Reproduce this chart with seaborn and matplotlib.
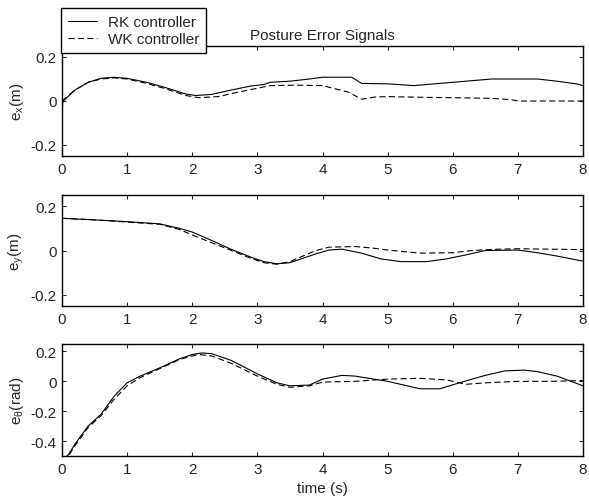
import numpy as np
import pandas as pd
import matplotlib
matplotlib.use("Agg")
import matplotlib.pyplot as plt
from matplotlib.ticker import FuncFormatter
import seaborn as sns

# time samples (s) and error values
t_ex_rk = [0, 0.01, 0.02, 0.2, 0.4, 0.6, 0.8, 1.0, 1.3, 1.6, 1.9, 2.05, 2.3, 2.6, 2.9, 3.1, 3.2, 3.5, 3.8, 4.0, 4.2, 4.45, 4.6, 5.0, 5.4, 5.8, 6.2, 6.6, 7.0, 7.3, 7.6, 7.9, 8.0]
ex_rk = [-0.08, -0.01, 0.0, 0.05, 0.085, 0.103, 0.108, 0.103, 0.085, 0.06, 0.032, 0.025, 0.03, 0.05, 0.068, 0.075, 0.085, 0.09, 0.1, 0.108, 0.108, 0.108, 0.08, 0.078, 0.07, 0.08, 0.09, 0.1, 0.1, 0.1, 0.09, 0.078, 0.07]

t_ex_wk = [0, 0.2, 0.4, 0.6, 0.8, 1.0, 1.3, 1.6, 1.9, 2.1, 2.4, 2.7, 3.0, 3.2, 3.6, 4.0, 4.2, 4.4, 4.6, 4.8, 5.0, 5.5, 6.0, 6.6, 6.9, 7.0, 7.5, 8.0]
ex_wk = [0.0, 0.05, 0.085, 0.1, 0.105, 0.1, 0.08, 0.055, 0.025, 0.015, 0.02, 0.04, 0.058, 0.07, 0.072, 0.07, 0.055, 0.04, 0.008, 0.018, 0.02, 0.017, 0.015, 0.012, 0.006, 0.0, 0.0, 0.0]

t_ey_rk = [0, 0.5, 1.0, 1.5, 1.8, 2.0, 2.3, 2.6, 2.9, 3.1, 3.3, 3.5, 3.7, 3.9, 4.1, 4.3, 4.6, 4.9, 5.2, 5.6, 5.9, 6.2, 6.5, 7.0, 7.3, 7.6, 8.0]
ey_rk = [0.145, 0.138, 0.13, 0.12, 0.1, 0.083, 0.045, 0.005, -0.03, -0.05, -0.06, -0.055, -0.035, -0.015, 0.002, 0.006, -0.012, -0.038, -0.05, -0.05, -0.038, -0.02, 0.0, 0.002, -0.01, -0.025, -0.048]

t_ey_wk = [0, 0.5, 1.0, 1.5, 1.8, 2.0, 2.3, 2.6, 2.9, 3.1, 3.3, 3.5, 3.7, 3.9, 4.1, 4.5, 4.8, 5.0, 5.5, 6.0, 6.3, 6.6, 7.0, 7.5, 8.0]
ey_wk = [0.145, 0.138, 0.128, 0.118, 0.095, 0.07, 0.035, 0.0, -0.035, -0.055, -0.062, -0.05, -0.025, 0.0, 0.015, 0.018, 0.01, 0.002, -0.012, -0.01, 0.0, 0.005, 0.008, 0.006, 0.004]

t_eth_rk = [0, 0.1, 0.2, 0.4, 0.6, 0.8, 1.0, 1.2, 1.5, 1.8, 2.0, 2.15, 2.3, 2.6, 3.0, 3.3, 3.5, 3.8, 4.0, 4.3, 4.5, 5.0, 5.3, 5.5, 5.8, 6.1, 6.5, 6.8, 7.1, 7.3, 7.6, 8.0]
eth_rk = [-0.53, -0.49, -0.42, -0.3, -0.22, -0.1, -0.01, 0.035, 0.09, 0.15, 0.18, 0.19, 0.185, 0.14, 0.05, -0.01, -0.03, -0.025, 0.015, 0.04, 0.035, 0.0, -0.03, -0.05, -0.05, -0.01, 0.04, 0.07, 0.075, 0.065, 0.035, -0.03]

t_eth_wk = [0, 0.1, 0.2, 0.4, 0.6, 0.8, 1.0, 1.2, 1.5, 1.8, 2.0, 2.1, 2.3, 2.6, 3.0, 3.3, 3.5, 3.8, 4.0, 4.5, 5.0, 5.5, 5.9, 6.2, 6.5, 7.0, 7.5, 8.0]
eth_wk = [-0.53, -0.5, -0.43, -0.31, -0.23, -0.12, -0.03, 0.025, 0.085, 0.145, 0.17, 0.18, 0.17, 0.12, 0.035, -0.02, -0.04, -0.03, -0.005, 0.0, 0.015, 0.02, 0.01, -0.02, -0.01, 0.0, 0.0, 0.005]

series_names = ["RK controller", "WK controller"]
ylabels = ["e$_x$(m)", "e$_y$(m)", "e$_θ$(rad)"]
yticks = [[-0.2, 0, 0.2], [-0.2, 0, 0.2], [-0.4, -0.2, 0, 0.2]]
ylims = [(-0.25, 0.25), (-0.25, 0.25), (-0.5, 0.25)]

sns.set_style("ticks")
plt.rcParams["font.family"] = ["Liberation Sans", "DejaVu Sans"]
plt.rcParams["mathtext.default"] = "regular"
plt.rcParams["axes.unicode_minus"] = False

fig = plt.figure(figsize=(5.89, 5.02), dpi=100)
positions = [
    [62 / 589, 1 - 157 / 502, 521 / 589, 110 / 502],
    [62 / 589, 1 - 307 / 502, 521 / 589, 111 / 502],
    [62 / 589, 1 - 457 / 502, 521 / 589, 112 / 502],
]

data = [
    (t_ex_rk, ex_rk, t_ex_wk, ex_wk),
    (t_ey_rk, ey_rk, t_ey_wk, ey_wk),
    (t_eth_rk, eth_rk, t_eth_wk, eth_wk),
]

axes = []
for i, (t1, y1, t2, y2) in enumerate(data):
    ax = fig.add_axes(positions[i])
    df_rk = pd.DataFrame({"t": t1, "e": y1})
    df_wk = pd.DataFrame({"t": t2, "e": y2})
    sns.lineplot(data=df_rk, x="t", y="e", ax=ax, color="black", lw=0.8,
                 label=series_names[0] if i == 0 else None, legend=False)
    sns.lineplot(data=df_wk, x="t", y="e", ax=ax, color="black", lw=0.8,
                 label=series_names[1] if i == 0 else None, legend=False)
    ax.lines[-1].set_dashes([5.5, 3])
    ax.set_xlim(0, 8)
    ax.set_ylim(*ylims[i])
    ax.set_xticks(range(0, 9))
    ax.set_yticks(yticks[i])
    ax.yaxis.set_major_formatter(FuncFormatter(lambda v, p: "%g" % v))
    ax.tick_params(direction="in", top=True, right=True, length=3, width=0.8,
                   labelsize=11, pad=4)
    for s in ax.spines.values():
        s.set_linewidth(1.0)
        s.set_color("black")
    ax.set_xlabel("")
    ax.set_ylabel(ylabels[i], fontsize=11, labelpad=3)
    axes.append(ax)

axes[0].set_title("Posture Error Signals", fontsize=11, pad=5)
axes[2].set_xlabel("time (s)", fontsize=11, labelpad=4)

handles, labels = axes[0].get_legend_handles_labels()
leg = fig.legend(handles, labels, loc="upper left",
                 bbox_to_anchor=(61 / 589, 1 - 9 / 502), fontsize=11,
                 frameon=True, fancybox=False, edgecolor="black",
                 borderpad=0.45, handlelength=1.9, handletextpad=0.7,
                 labelspacing=0.2, borderaxespad=0)
leg.get_frame().set_linewidth(1.0)
leg.get_frame().set_alpha(1)
leg.set_zorder(10)

fig.savefig("out.png", dpi=100)
